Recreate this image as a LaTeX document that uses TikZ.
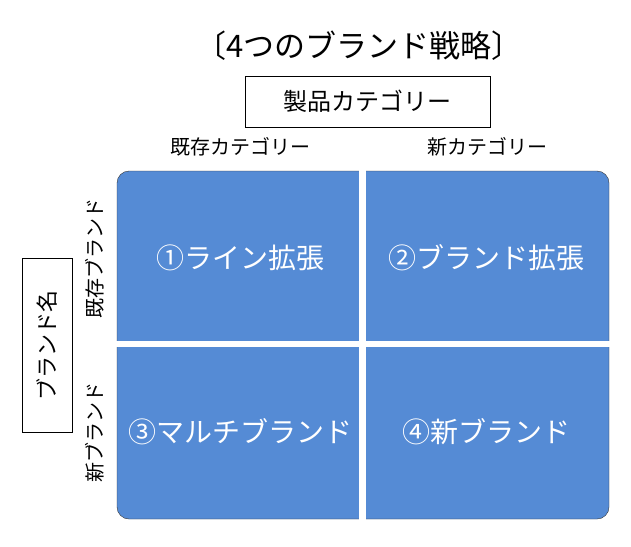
\documentclass[tikz,border=0pt]{standalone}
\usepackage{fontspec}
\setmainfont{Noto Sans CJK JP}
\definecolor{cellblue}{RGB}{85,139,213}
\begin{document}
\begin{tikzpicture}[
    x=1pt, y=-1pt,
    every node/.style={inner sep=0pt},
    box/.style={draw, line width=0.8pt},
    cell/.style={text=white, font=\fontsize{28}{28}\selectfont},
    hdr/.style={font=\fontsize{20}{20}\selectfont}
]
\useasboundingbox (0,0) rectangle (631,546);
\node[font=\fontsize{31}{31}\selectfont] (title) at (359,46) {〔4つのブランド戦略〕};
\node[box, minimum width=245pt, minimum height=51pt,
      font=\fontsize{24}{24}\selectfont] (cat) at (367.5,101.5) {製品カテゴリー};
\node[hdr] (catold) at (240,147) {既存カテゴリー};
\node[hdr] (catnew) at (487,147) {新カテゴリー};
\node[box, rotate=90, minimum width=174pt, minimum height=50pt,
      font=\fontsize{22}{22}\selectfont] (brand) at (47,345) {ブランド名};
\node[hdr, rotate=90] (brandold) at (95,258) {既存ブランド};
\node[hdr, rotate=90] (brandnew) at (95,432) {新ブランド};
% quadrants
\draw[fill=cellblue, draw=black!80, rounded corners=12pt] (117,171) rectangle (609,519);
\draw[white, line width=6.5pt] (362.5,165) -- (362.5,525);
\draw[white, line width=6pt] (110,344) -- (615,344);
\node[cell] (q1) at (240,258) {①ライン拡張};
\node[cell] (q2) at (486,258) {②ブランド拡張};
\node[cell] (q3) at (240,432) {③マルチブランド};
\node[cell] (q4) at (486,432) {④新ブランド};
\end{tikzpicture}
\end{document}
